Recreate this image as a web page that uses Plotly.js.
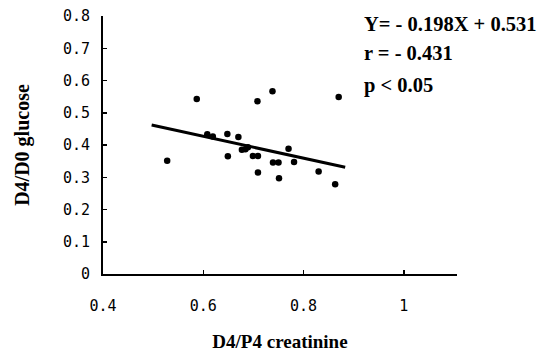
<!DOCTYPE html>
<html>
<head>
<meta charset="utf-8">
<script src="https://cdn.plot.ly/plotly-3.0.1.min.js"></script>
<style>html,body{margin:0;padding:0;background:#fff;}#chart{width:558px;height:352px;}</style>
</head>
<body>
<div id="chart"></div>
<script>
// Scatter data: D4/P4 creatinine (x) vs D4/D0 glucose (y)
var creatinine = [0.528, 0.587, 0.708, 0.738, 0.870, 0.608, 0.619, 0.648, 0.670, 0.649, 0.677, 0.684, 0.689,
                  0.699, 0.709, 0.709, 0.739, 0.750, 0.751, 0.770, 0.781, 0.830, 0.863];
var glucose    = [0.351, 0.543, 0.536, 0.567, 0.549, 0.433, 0.426, 0.434, 0.425, 0.365, 0.385, 0.387, 0.393,
                  0.366, 0.366, 0.315, 0.346, 0.346, 0.297, 0.388, 0.347, 0.318, 0.278];
// Regression line endpoints as drawn
var fitX = [0.497, 0.883];
var fitY = [0.462, 0.331];
var yTicks = [0, 0.1, 0.2, 0.3, 0.4, 0.5, 0.6, 0.7, 0.8];
var yTickText = ['0', '0.1', '0.2', '0.3', '0.4', '0.5', '0.6', '0.7', '0.8'];
var xTicks = [0.4, 0.6, 0.8, 1];
var xTickText = ['0.4', '0.6', '0.8', '1'];
var statLines = ['Y= - 0.198X + 0.531', 'r = - 0.431', 'p < 0.05'];

var serif = 'Liberation Serif, Times New Roman, serif';
var tickFont = {family: 'DejaVu Sans Mono, monospace', size: 15, color: '#000'};

var traces = [
  {x: creatinine, y: glucose, type: 'scatter', mode: 'markers',
   marker: {color: '#000', size: 6.5}, hoverinfo: 'none'},
  {x: fitX, y: fitY, type: 'scatter', mode: 'lines',
   line: {color: '#000', width: 3}, hoverinfo: 'none'}
];

var annY = [0.774, 0.685, 0.586];
var annotations = statLines.map(function (t, i) {
  return {text: t, xref: 'paper', yref: 'y', x: 0.733, y: annY[i],
          xanchor: 'left', yanchor: 'middle', showarrow: false,
          font: {family: serif, size: 20.5, color: '#000', weight: 'bold'}};
});

var layout = {
  width: 558, height: 352,
  margin: {l: 103, r: 101, t: 16, b: 78},
  paper_bgcolor: '#fff', plot_bgcolor: '#fff',
  showlegend: false,
  xaxis: {
    range: [0.4, 1.106], showgrid: false, zeroline: false,
    showline: true, linecolor: '#000', linewidth: 2,
    ticks: 'inside', ticklen: 4, tickwidth: 1.5, tickcolor: '#000',
    tickvals: xTicks, ticktext: xTickText, tickfont: tickFont,
    ticklabelstandoff: 17,
    title: {text: 'D4/P4 creatinine', font: {family: serif, size: 19, color: '#000', weight: 'bold'}, standoff: 24}
  },
  yaxis: {
    range: [0, 0.8], showgrid: false, zeroline: false,
    showline: true, linecolor: '#000', linewidth: 2,
    ticks: 'inside', ticklen: 4, tickwidth: 1.5, tickcolor: '#000',
    tickvals: yTicks, ticktext: yTickText, tickfont: tickFont,
    ticklabelstandoff: 8,
    title: {text: 'D4/D0 glucose', font: {family: serif, size: 20, color: '#000', weight: 'bold'}, standoff: 28}
  },
  annotations: annotations
};

Plotly.newPlot('chart', traces, layout, {staticPlot: true, displayModeBar: false});
</script>
</body>
</html>
